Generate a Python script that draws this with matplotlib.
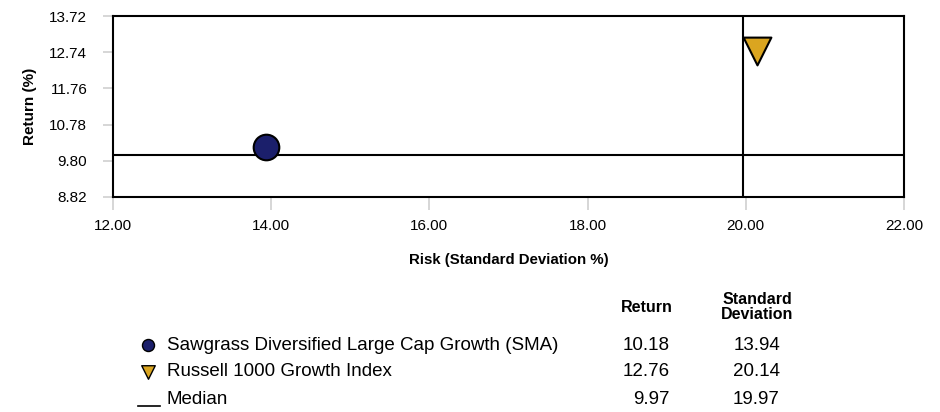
import numpy as np
import matplotlib.pyplot as plt

plt.rcParams['font.family'] = ['Liberation Sans', 'DejaVu Sans']

# data ---------------------------------------------------
names = ['Sawgrass Diversified Large Cap Growth (SMA)', 'Russell 1000 Growth Index']
risk = [13.94, 20.14]
ret = [10.18, 12.76]
markers = ['o', 'v']
colors = ['#1b1f6b', '#daa520']
median_risk = 19.97
median_ret = 9.97
yticks = [8.82, 9.80, 10.78, 11.76, 12.74, 13.72]
xticks = [12.0, 14.0, 16.0, 18.0, 20.0, 22.0]

W, H = 940, 412
fig = plt.figure(figsize=(W / 100, H / 100), dpi=100)
ax = fig.add_axes([113 / W, 1 - 197 / H, (904 - 113) / W, (197 - 16) / H])

ax.axhline(median_ret, color='black', lw=1.5, zorder=2)
ax.axvline(median_risk, color='black', lw=1.5, zorder=2)
sizes = [340, 400]
for i in range(len(names)):
    ax.scatter(risk[i], ret[i], marker=markers[i], s=sizes[i], c=colors[i],
               edgecolors='black', linewidths=1.5, zorder=3, clip_on=False)

ax.set_xlim(12, 22)
ax.set_ylim(8.82, 13.72)
ax.set_xticks(xticks)
ax.set_xticklabels(['%.2f' % v for v in xticks], fontsize=11)
ax.set_yticks(yticks)
ax.set_yticklabels(['%.2f' % v for v in yticks], fontsize=11)
ax.tick_params(axis='both', color='#d0d0d0', width=1.2, direction='out')
ax.tick_params(axis='x', length=9, pad=7)
ax.tick_params(axis='y', length=7.5, pad=11)
for sp in ax.spines.values():
    sp.set_linewidth(1.5)
ax.set_xlabel('Risk (Standard Deviation %)', fontsize=10.8, fontweight='bold', labelpad=14)
ax.set_ylabel('Return (%)', fontsize=11, fontweight='bold', labelpad=9)

# legend table --------------------------------------------
lg = fig.add_axes([0, 0, 1, 1], facecolor='none')
lg.set_xlim(0, W)
lg.set_ylim(H, 0)
lg.axis('off')

col_ret = 647
col_sd = 757
lg.text(col_ret, 307, 'Return', ha='center', va='center', fontsize=11.5, fontweight='bold')
lg.text(col_sd, 307, 'Standard\nDeviation', ha='center', va='center', fontsize=11.5,
        fontweight='bold', linespacing=1.0)

rows_y = [345, 372, 400]
leg_sizes = [75, 95]
fs = 13.5
for i in range(len(names)):
    lg.scatter(148, rows_y[i], marker=markers[i], s=leg_sizes[i], c=colors[i],
               edgecolors='black', linewidths=1)
    lg.text(167, rows_y[i], names[i], ha='left', va='center', fontsize=fs)
    lg.text(670, rows_y[i], '%.2f' % ret[i], ha='right', va='center', fontsize=fs)
    lg.text(780, rows_y[i], '%.2f' % risk[i], ha='right', va='center', fontsize=fs)

lg.plot([138, 160], [rows_y[2] + 6, rows_y[2] + 6], color='black', lw=1.2)
lg.text(167, rows_y[2], 'Median', ha='left', va='center', fontsize=fs)
lg.text(670, rows_y[2], '%.2f' % median_ret, ha='right', va='center', fontsize=fs)
lg.text(780, rows_y[2], '%.2f' % median_risk, ha='right', va='center', fontsize=fs)

fig.savefig('out.png', dpi=100)
